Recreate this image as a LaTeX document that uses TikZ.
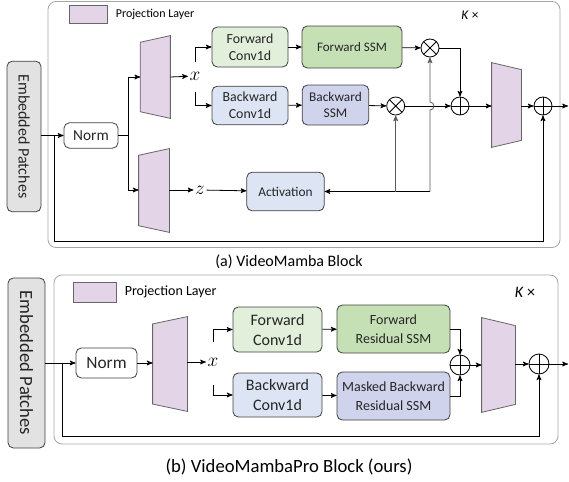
\documentclass[tikz,border=0pt]{standalone}
\usepackage{fontspec}
\setmainfont{Carlito}
\usetikzlibrary{arrows,calc}

\definecolor{fwdconv}{HTML}{E2EFDA}
\definecolor{fwdssm}{HTML}{C5E0B4}
\definecolor{bwdconv}{HTML}{DDE5F4}
\definecolor{bwdssm}{HTML}{D0D3EC}
\definecolor{projfill}{HTML}{E4D4E7}
\definecolor{embedfill}{HTML}{E2E2E2}

\begin{document}
\begin{tikzpicture}[x=0.75pt,y=-0.75pt,-,>=stealth',line width=0.6pt,
	block/.style={draw=black!75,rounded corners=4pt,align=center,inner sep=1pt,text=black!85},
	embed/.style={block,fill=embedfill,rotate=-90},
	proj/.style={inner sep=0pt},
	projline/.style={draw=black!60,fill=projfill},
	outer/.style={draw=black!35,rounded corners=6pt},
	gate/.style={circle,draw,inner sep=0pt,minimum size=#1},
	times/.style={gate=#1,path picture={\draw (path picture bounding box.north west) -- (path picture bounding box.south east)
		(path picture bounding box.south west) -- (path picture bounding box.north east);}},
	plus/.style={gate=#1,path picture={\draw (path picture bounding box.north) -- (path picture bounding box.south)
		(path picture bounding box.west) -- (path picture bounding box.east);}},
	var/.style={inner sep=1pt,font=\fontsize{14}{14}\selectfont}]

	\useasboundingbox (0,0) rectangle (569,482);

	% (a) VideoMamba Block
	\draw[outer] (48,1.5) rectangle (560,247.5);
	\filldraw[projline] (69,5) rectangle (107,23);
	\node[anchor=west,font=\fontsize{9}{10}\selectfont] (a0) at (111,14) {Projection Layer};
	\node[font=\fontsize{10}{11}\selectfont] (a19) at (470,15) {\textit{K} ×};

	\node[embed,minimum width=113pt,minimum height=25.5pt,font=\fontsize{12}{12}\selectfont] (a1) at (24,136.5) {Embedded Patches};
	\node[block,minimum width=40.5pt,minimum height=19pt,font=\fontsize{11.5}{12}\selectfont] (a2) at (91,135.5) {Norm};
	\node[proj,minimum width=22pt,minimum height=61.5pt] (a3) at (155.3,77) {};
	\node[proj,minimum width=22.5pt,minimum height=62.25pt] (a4) at (154,190.5) {};
	\node[block,fill=fwdconv,minimum width=57pt,minimum height=30pt,font=\fontsize{10.4}{13}\selectfont] (a5) at (250,47) {Forward\\Conv1d};
	\node[block,fill=bwdconv,minimum width=57pt,minimum height=29pt,font=\fontsize{10.4}{13}\selectfont] (a6) at (250,105.5) {Backward\\Conv1d};
	\node[block,fill=fwdssm,minimum width=75pt,minimum height=31.5pt,font=\fontsize{9.75}{11}\selectfont] (a7) at (352,47) {Forward SSM};
	\node[block,fill=bwdssm,minimum width=50pt,minimum height=30pt,font=\fontsize{10}{11.5}\selectfont] (a8) at (335.5,105) {Backward\\SSM};
	\node[block,fill=bwdconv,minimum width=58pt,minimum height=29pt,font=\fontsize{10}{12}\selectfont] (a9) at (285.5,191.5) {Activation};
	\node[times=13.5pt] (a10) at (430,48) {};
	\node[times=13.5pt] (a11) at (395.7,106) {};
	\node[plus=13.5pt] (a12) at (460,106) {};
	\node[plus=13.5pt] (a13) at (543,106) {};
	\node[var] (a14) at (195,76) {$x$};
	\node[var] (a15) at (200,190) {$z$};
	\node[proj,minimum width=21.75pt,minimum height=63pt] (a17) at (506.5,105) {};
	\coordinate (a16) at (a10 |- a9);
	\coordinate (a18) at (568,106);
	\coordinate (a20) at (54,135.5);
	\coordinate (a21) at (128,135.5);

	\filldraw[projline] ([yshift=-5pt]a3.north west) -- (a3.north east) -- (a3.south east) -- ([yshift=5pt]a3.south west) -- cycle;
	\filldraw[projline] ([yshift=-5pt]a4.north west) -- (a4.north east) -- (a4.south east) -- ([yshift=5pt]a4.south west) -- cycle;
	\filldraw[projline] (a17.north west) -- ([yshift=-5.25pt]a17.north east) -- ([yshift=5.25pt]a17.south east) -- (a17.south west) -- cycle;

	\path[->]
		(a1.north |- a2) edge (a2)
		(a5) edge (a7)
		(a6) edge (a8)
		(a7) edge (a10)
		(a8) edge (a11)
		(a3.east) edge (a14)
		(a4.east |- a15) edge (a15)
		(a15) edge (a9)
		(a12) edge (a17.west |- a12)
		(a17.east |- a13) edge (a13)
		(a13) edge (a18)
		(a16) edge (a9);
	\draw[->] (a2) -- (a21) |- (a3.west);
	\draw[->] (a21) |- (a4.west |- a15);
	\draw[->] ($(a14)+(0,-14)$) |- (a5.west);
	\draw[->] ($(a14)+(0,16)$) |- (a6.west);
	\draw[->] (a10) -| (a12);
	\draw[->] (a11) -- (a12);
	\draw[->,black!65] (a11 |- a9) -- (a11);
	\draw[->,black!65] (a16) -- ($(a10 |- a12)+(0,4)$) arc[start angle=-90,end angle=90,radius=3pt] -- (a10);
	\draw[->] (a20) |- (54,241) -| (a13);

	\node[font=\fontsize{12}{13}\selectfont] (a22) at (289,262) {(a) VideoMamba Block};

	% (b) VideoMambaPro Block
	\draw[outer] (54,275) rectangle (558,444);
	\filldraw[projline] (73,282) rectangle (116,302);
	\node[anchor=west,font=\fontsize{10.5}{12}\selectfont] (b0) at (120,292) {Projection Layer};
	\node[font=\fontsize{12}{13}\selectfont] (b13) at (525,292) {\textit{K} ×};

	\node[embed,minimum width=127.5pt,minimum height=27.75pt,font=\fontsize{14}{14}\selectfont] (b1) at (26.5,363) {Embedded Patches};
	\node[block,minimum width=45.75pt,minimum height=22.5pt,font=\fontsize{13}{14}\selectfont] (b2) at (106.5,363) {Norm};
	\node[proj,minimum width=25.5pt,minimum height=70.5pt] (b3) at (170,364) {};
	\node[var] (b4) at (213,362) {$x$};
	\node[block,fill=fwdconv,minimum width=66.75pt,minimum height=33.75pt,font=\fontsize{12}{15}\selectfont] (b5) at (277.5,329.5) {Forward\\Conv1d};
	\node[block,fill=bwdconv,minimum width=66.75pt,minimum height=33pt,font=\fontsize{12}{15}\selectfont] (b6) at (277.5,395) {Backward\\Conv1d};
	\node[block,fill=fwdssm,minimum width=84.75pt,minimum height=36pt,font=\fontsize{10.5}{14}\selectfont] (b7) at (393.5,329) {Forward\\Residual SSM};
	\node[block,fill=bwdssm,minimum width=84.75pt,minimum height=36pt,font=\fontsize{10.5}{14}\selectfont] (b8) at (393.5,396) {Masked Backward\\Residual SSM};
	\node[plus=15pt] (b9) at (460,365) {};
	\node[proj,minimum width=24.75pt,minimum height=70.5pt] (b10) at (498.5,365) {};
	\node[plus=15pt] (b11) at (539,364) {};
	\coordinate (b12) at (568,364);
	\coordinate (b14) at (62,363);

	\filldraw[projline] ([yshift=-5.5pt]b3.north west) -- (b3.north east) -- (b3.south east) -- ([yshift=5.5pt]b3.south west) -- cycle;
	\filldraw[projline] (b10.north west) -- ([yshift=-6pt]b10.north east) -- ([yshift=6pt]b10.south east) -- (b10.south west) -- cycle;

	\path[->]
		(b1.north |- b2) edge (b2)
		(b2) edge (b3.west |- b2)
		(b3.east |- b4) edge (b4)
		(b5) edge (b7)
		(b6) edge (b8)
		(b9) edge (b10.west |- b9)
		(b10.east |- b11) edge (b11)
		(b11) edge (b12);
	\draw[->] ($(b4)+(0,-20)$) |- (b5.west);
	\draw[->] ($(b4)+(0,23)$) |- (b6.west);
	\draw[->] (b7.east) -| (b9.north);
	\draw[->] (b8.east) -| (b9.south);
	\draw[->] (b14) |- (62,436) -| (b11);

	\node[font=\fontsize{14}{15}\selectfont] (b15) at (289,467) {(b) VideoMambaPro Block (ours)};
\end{tikzpicture}
\end{document}
